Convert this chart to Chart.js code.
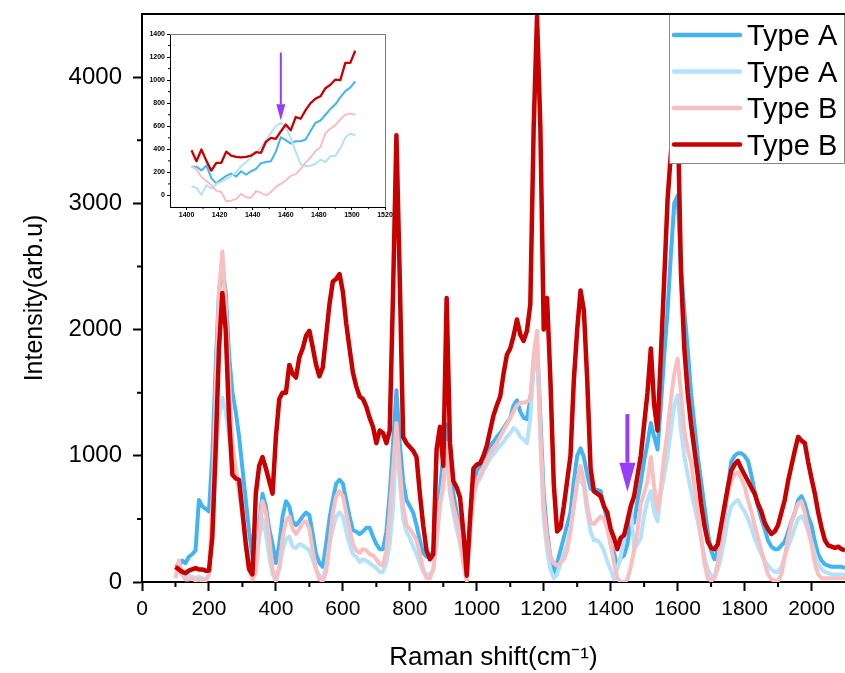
<!DOCTYPE html>
<html>
<head>
<meta charset="utf-8">
<script src="https://cdn.jsdelivr.net/npm/chart.js@4.4.0/dist/chart.umd.min.js"></script>
<style>
body { margin: 0; background: #fff; }
#wrap { position: relative; width: 845px; height: 673px; }
#main { position: absolute; left: 0; top: 0; }
#inset { position: absolute; left: 140px; top: 25px; }
</style>
</head>
<body>
<div id="wrap">
<canvas id="main" width="845" height="673"></canvas>
<canvas id="inset" width="260" height="200"></canvas>
</div>
<script>
// Raman shift (cm-1) sampled every 10
var shift = [
  100,110,120,130,140,150,160,170,180,190,
  200,210,220,230,240,250,260,270,280,290,
  300,310,320,330,340,350,360,370,380,390,
  400,410,420,430,440,450,460,470,480,490,
  500,510,520,530,540,550,560,570,580,590,
  600,610,620,630,640,650,660,670,680,690,
  700,710,720,730,740,750,760,770,780,790,
  800,810,820,830,840,850,860,870,880,890,
  900,910,920,930,940,950,960,970,980,990,
  1000,1010,1020,1030,1040,1050,1060,1070,1080,1090,
  1100,1110,1120,1130,1140,1150,1160,1170,1180,1190,
  1200,1210,1220,1230,1240,1250,1260,1270,1280,1290,
  1300,1310,1320,1330,1340,1350,1360,1370,1380,1390,
  1400,1410,1420,1430,1440,1450,1460,1470,1480,1490,
  1500,1510,1520,1530,1540,1550,1560,1570,1580,1590,
  1600,1610,1620,1630,1640,1650,1660,1670,1680,1690,
  1700,1710,1720,1730,1740,1750,1760,1770,1780,1790,
  1800,1810,1820,1830,1840,1850,1860,1870,1880,1890,
  1900,1910,1920,1930,1940,1950,1960,1970,1980,1990,
  2000,2010,2020,2030,2040,2050,2060,2070,2080,2090,2100
];

var typeA1 = [
  140,120,170,150,200,220,250,650,600,580,
  560,1000,1700,2300,2500,2300,1800,1500,1350,1150,
  900,650,400,200,180,450,700,600,420,300,
  150,300,520,640,600,480,450,480,520,550,
  530,380,220,150,120,300,500,650,780,810,
  780,650,520,410,400,380,400,430,430,360,
  300,260,260,400,700,1100,1520,1100,800,650,
  600,550,450,330,230,200,200,250,450,730,
  1000,1250,900,700,550,420,250,60,400,750,
  880,920,980,1030,1080,1110,1150,1180,1220,1260,
  1300,1400,1440,1350,1300,1290,1450,1700,1900,1300,
  700,400,200,70,150,250,350,450,550,800,
  1000,1060,990,850,740,720,730,720,600,480,
  300,230,120,190,210,300,490,470,640,790,
  960,1100,1260,1150,1050,1400,1800,2150,2600,3000,
  3060,2500,2150,1850,1500,1250,1000,800,600,400,
  250,180,250,350,520,750,950,1000,1020,1020,
  1000,960,850,720,600,500,420,330,280,260,
  260,290,320,400,480,550,650,680,620,520,
  450,320,220,170,140,130,120,120,120,120,110
];

var typeA2 = [
  100,80,60,40,50,40,30,40,30,20,
  50,400,900,1300,1460,1350,1150,1000,850,700,
  520,350,150,60,100,350,500,380,200,60,
  10,100,250,340,360,280,270,300,290,270,
  250,180,100,50,20,120,300,420,520,550,
  520,400,300,220,200,160,180,170,150,130,
  110,80,80,150,300,600,1150,800,500,400,
  350,280,220,150,80,60,60,100,300,600,
  800,1000,700,550,420,300,150,20,350,650,
  780,820,880,930,980,1010,1050,1080,1110,1150,
  1180,1220,1200,1150,1130,1100,1300,1700,1900,1100,
  500,250,100,30,60,150,220,300,420,600,
  780,820,750,550,400,330,330,300,250,160,
  100,20,110,200,340,520,600,260,300,350,
  530,650,720,550,480,700,850,1000,1200,1400,
  1480,1200,1000,850,720,600,480,350,200,100,
  50,40,100,200,350,500,600,630,650,600,
  560,500,430,350,280,220,170,130,100,80,
  80,120,200,280,350,430,500,520,480,400,
  320,220,150,100,80,70,60,60,60,60,60
];

var typeB1 = [
  30,170,60,20,20,30,10,20,10,10,
  60,600,1500,2300,2620,2200,1600,1100,900,750,
  550,300,100,20,80,400,640,550,350,100,
  10,120,350,480,520,420,380,420,470,480,
  420,250,100,20,10,80,300,550,680,720,
  680,550,420,300,250,230,260,250,220,210,
  180,140,130,250,550,900,1260,900,600,450,
  420,380,330,220,100,30,30,100,350,620,
  750,1100,750,600,500,350,150,10,400,700,
  800,850,900,960,1020,1060,1100,1150,1200,1250,
  1300,1350,1400,1420,1420,1430,1450,1800,1990,1200,
  600,350,200,150,130,150,180,250,400,600,
  800,920,800,600,470,460,490,520,500,420,
  300,150,30,0,0,20,120,250,400,620,
  700,800,990,750,560,750,1000,1200,1450,1650,
  1770,1500,1200,1050,950,750,550,350,150,30,
  10,30,150,350,550,700,800,850,870,820,
  760,650,560,450,350,250,150,60,20,10,
  10,60,200,350,470,550,620,640,550,420,
  300,150,60,30,30,30,30,30,30,30,30
];

var typeB2 = [
  120,100,80,70,90,100,110,100,100,90,
  90,350,1050,1850,2290,2000,1300,850,820,810,
  560,300,100,60,700,920,990,900,800,700,
  1150,1450,1500,1500,1720,1650,1620,1780,1850,1950,
  1990,1860,1720,1630,1700,1950,2200,2380,2400,2440,
  2300,2050,1850,1660,1550,1470,1450,1390,1300,1230,
  1100,1200,1180,1100,1200,2300,3540,2400,1150,1100,
  1070,1040,990,700,450,250,180,220,1050,1230,
  920,2250,1100,800,750,670,400,50,500,900,
  930,940,1000,1080,1200,1320,1400,1470,1650,1800,
  1850,1950,2080,1960,1910,1990,2200,3600,4480,3600,
  2000,2250,1600,780,400,430,600,800,1000,1600,
  2000,2310,2150,1600,900,720,700,680,600,550,
  420,350,260,350,370,480,600,680,840,1000,
  1250,1500,1850,1400,1200,1800,2400,3030,3400,3700,
  3750,2450,1850,1500,1250,1050,850,620,450,320,
  270,260,300,450,600,750,880,930,960,900,
  850,800,750,700,620,560,470,420,380,400,
  450,550,650,800,920,1040,1150,1120,1100,950,
  820,700,550,430,330,290,280,270,280,260,250
];

// inset zoom 1400-1500
var insetShift = [1403,1406,1409,1412,1415,1418,1421,1424,1427,1430,1433,1436,1439,1442,1445,1448,1451,
  1454,1457,1460,1463,1466,1469,1472,1475,1478,1481,1484,1487,1490,1493,1496,1499,1502];
var insetA1 = [250,250,216,260,150,105,140,170,190,165,210,180,210,230,280,290,297,
  380,505,480,450,470,470,485,560,630,650,700,750,790,850,905,935,990];
var insetA2 = [80,66,5,90,60,100,120,140,170,200,254,290,330,370,420,480,542,
  600,630,590,500,380,270,254,258,275,310,290,340,345,410,500,537,520];
var insetB1 = [254,225,160,125,90,40,30,-50,-45,-30,14,-15,-20,38,23,0,29,
  75,100,130,170,185,230,285,330,385,420,540,580,610,660,700,710,700];
var insetB2 = [392,297,398,300,215,283,283,380,345,335,330,335,345,375,370,465,500,
  490,555,615,565,680,665,740,800,840,860,930,960,1005,1000,1150,1150,1255];

var labels = ['Type A', 'Type A', 'Type B', 'Type B'];
var colors = ['#42B4F2', '#B3E2FA', '#F9BFC0', '#C90000'];

var xTicks = [0,200,400,600,800,1000,1200,1400,1600,1800,2000];
var xMinor = [100,300,500,700,900,1100,1300,1500,1700,1900];
var yTicks = [0,1000,2000,3000,4000];
var yMinor = [500,1500,2500,3500];
var insetXTicks = [1400,1420,1440,1460,1480,1500,1520];
var insetXMinor = [1410,1430,1450,1470,1490,1510];
var insetYTicks = [0,200,400,600,800,1000,1200,1400];
var insetYMinor = [100,300,500,700,900,1100,1300];

var arrowMain = { x: 1450, from: 1330, head: 945, to: 715 };
var arrowInset = { x: 1457, from: 1240, head: 790, to: 650 };

function pts(xs, ys) {
  return xs.map(function(x, i) { return { x: x, y: ys[i] }; });
}

function makeSets(xs, series, widths) {
  return series.map(function(ys, i) {
    return {
      label: labels[i],
      data: pts(xs, ys),
      borderColor: colors[i],
      backgroundColor: colors[i],
      borderWidth: widths[i],
      pointRadius: 0,
      tension: 0,
      borderJoinStyle: 'round',
      order: 4 - i
    };
  });
}

function minorTicks(xm, ym, len, width) {
  return {
    id: 'minorTicks',
    afterDraw: function(chart) {
      var ctx = chart.ctx, xs = chart.scales.x, ys = chart.scales.y, a = chart.chartArea;
      ctx.save();
      ctx.strokeStyle = '#000';
      ctx.lineWidth = width;
      ctx.beginPath();
      xm.forEach(function(v) {
        var px = xs.getPixelForValue(v);
        ctx.moveTo(px, a.bottom); ctx.lineTo(px, a.bottom + len);
      });
      ym.forEach(function(v) {
        var py = ys.getPixelForValue(v);
        ctx.moveTo(a.left, py); ctx.lineTo(a.left - len, py);
      });
      ctx.stroke();
      ctx.restore();
    }
  };
}

function arrowPlugin(arr, shaftW, headHalf) {
  return {
    id: 'arrow',
    afterDatasetsDraw: function(chart) {
      var ctx = chart.ctx, xs = chart.scales.x, ys = chart.scales.y;
      var px = xs.getPixelForValue(arr.x);
      var y0 = ys.getPixelForValue(arr.from), y1 = ys.getPixelForValue(arr.head), y2 = ys.getPixelForValue(arr.to);
      ctx.save();
      ctx.fillStyle = '#9A3DF7';
      ctx.fillRect(px - shaftW / 2, y0, shaftW, y1 - y0);
      ctx.beginPath();
      ctx.moveTo(px - headHalf, y1);
      ctx.lineTo(px + headHalf, y1);
      ctx.lineTo(px, y2);
      ctx.closePath();
      ctx.fill();
      ctx.restore();
    }
  };
}

var frame = {
  id: 'frame',
  afterDraw: function(chart) {
    var ctx = chart.ctx, a = chart.chartArea;
    ctx.save();
    ctx.strokeStyle = '#000';
    ctx.lineWidth = 2;
    ctx.beginPath();
    ctx.moveTo(a.left - 1, a.top);
    ctx.lineTo(a.right, a.top);
    ctx.stroke();
    ctx.restore();
  }
};

var boxLegend = {
  id: 'boxLegend',
  afterDatasetsDraw: function(chart) {
    var ctx = chart.ctx, a = chart.chartArea;
    var left = a.right - 176, top = a.top, w = 176, h = 150;
    ctx.save();
    ctx.fillStyle = '#fff';
    ctx.fillRect(left, top, w, h);
    ctx.strokeStyle = '#888';
    ctx.lineWidth = 1;
    ctx.strokeRect(left + 0.5, top + 0.5, w - 1, h - 1);
    ctx.font = '29px "Liberation Sans", Arial, sans-serif';
    ctx.textBaseline = 'middle';
    ctx.fillStyle = '#000';
    chart.data.datasets.forEach(function(ds, i) {
      var y = top + 21 + i * 36.5;
      ctx.strokeStyle = ds.borderColor;
      ctx.lineWidth = 4.5;
      ctx.lineCap = 'round';
      ctx.beginPath();
      ctx.moveTo(left + 5, y);
      ctx.lineTo(left + 71, y);
      ctx.stroke();
      ctx.fillText(ds.label, left + 78, y + 2);
    });
    ctx.restore();
  }
};

var insetFrame = {
  id: 'insetFrame',
  afterDraw: function(chart) {
    var ctx = chart.ctx, a = chart.chartArea;
    ctx.save();
    ctx.strokeStyle = '#777';
    ctx.lineWidth = 1;
    ctx.beginPath();
    ctx.moveTo(a.left, a.top + 0.5);
    ctx.lineTo(a.right + 0.5, a.top + 0.5);
    ctx.lineTo(a.right + 0.5, a.bottom);
    ctx.stroke();
    ctx.restore();
  }
};

function noPadX(s, h) { s.height = h; s.paddingLeft = 0; s.paddingRight = 0; }
function noPadY(s, w) { s.width = w; s.paddingTop = 0; s.paddingBottom = 0; }

var mainFont = '"Liberation Sans", Arial, sans-serif';

new Chart(document.getElementById('main').getContext('2d'), {
  type: 'line',
  data: { datasets: makeSets(shift, [typeA1, typeA2, typeB1, typeB2], [4, 4, 4, 4.5]) },
  options: {
    responsive: false,
    animation: false,
    devicePixelRatio: 1,
    layout: { padding: { top: 14, right: 0, left: 0, bottom: 0 } },
    plugins: { legend: { display: false }, tooltip: { enabled: false } },
    scales: {
      x: {
        type: 'linear', min: 0, max: 2100,
        afterBuildTicks: function(s) { s.ticks = xTicks.map(function(v) { return { value: v }; }); },
        afterFit: function(s) { noPadX(s, 91); },
        grid: { display: true, drawOnChartArea: false, drawTicks: true, tickLength: 9, tickWidth: 2, tickColor: '#000' },
        border: { display: true, color: '#000', width: 2 },
        ticks: { color: '#000', padding: 6, maxRotation: 0, autoSkip: false,
          font: { family: mainFont, size: 21 },
          callback: function(v) { return String(v); } },
        title: { display: true, text: 'Raman shift(cm\u207B\u00B9)', color: '#000',
          font: { family: mainFont, size: 26 }, padding: { top: 0, bottom: 0 } }
      },
      y: {
        type: 'linear', min: 0, max: 4500,
        afterBuildTicks: function(s) { s.ticks = yTicks.map(function(v) { return { value: v }; }); },
        afterFit: function(s) { noPadY(s, 142); },
        grid: { display: true, drawOnChartArea: false, drawTicks: true, tickLength: 9, tickWidth: 2, tickColor: '#000' },
        border: { display: true, color: '#000', width: 2 },
        ticks: { color: '#000', padding: 11, autoSkip: false,
          font: { family: mainFont, size: 24 },
          callback: function(v) { return String(v); } },
        title: { display: true, text: 'Intensity(arb.u)', color: '#000',
          font: { family: mainFont, size: 25 }, padding: { top: 20, bottom: 0 } }
      }
    }
  },
  plugins: [minorTicks(xMinor, yMinor, 5, 2), arrowPlugin(arrowMain, 4, 8), boxLegend, frame]
});

new Chart(document.getElementById('inset').getContext('2d'), {
  type: 'line',
  data: { datasets: makeSets(insetShift, [insetA1, insetA2, insetB1, insetB2], [2, 2, 2, 2.3]) },
  options: {
    responsive: false,
    animation: false,
    devicePixelRatio: 1,
    layout: { padding: { top: 9, right: 15, left: 0, bottom: 0 } },
    plugins: { legend: { display: false }, tooltip: { enabled: false } },
    scales: {
      x: {
        type: 'linear', min: 1390, max: 1520,
        afterBuildTicks: function(s) { s.ticks = insetXTicks.map(function(v) { return { value: v }; }); },
        afterFit: function(s) { noPadX(s, 18); },
        grid: { display: true, drawOnChartArea: false, drawTicks: true, tickLength: 3, tickWidth: 1, tickColor: '#000' },
        border: { display: true, color: '#000', width: 1 },
        ticks: { color: '#000', padding: 1, maxRotation: 0, autoSkip: false,
          font: { family: mainFont, size: 7, weight: 'bold' },
          callback: function(v) { return String(v); } }
      },
      y: {
        type: 'linear', min: -100, max: 1400,
        afterBuildTicks: function(s) { s.ticks = insetYTicks.map(function(v) { return { value: v }; }); },
        afterFit: function(s) { noPadY(s, 30); },
        grid: { display: true, drawOnChartArea: false, drawTicks: true, tickLength: 3, tickWidth: 1, tickColor: '#000' },
        border: { display: true, color: '#000', width: 1 },
        ticks: { color: '#000', padding: 2, autoSkip: false,
          font: { family: mainFont, size: 7, weight: 'bold' },
          callback: function(v) { return String(v); } }
      }
    }
  },
  plugins: [minorTicks(insetXMinor, insetYMinor, 2, 1), arrowPlugin(arrowInset, 2, 4.5), insetFrame]
});
</script>
</body>
</html>
